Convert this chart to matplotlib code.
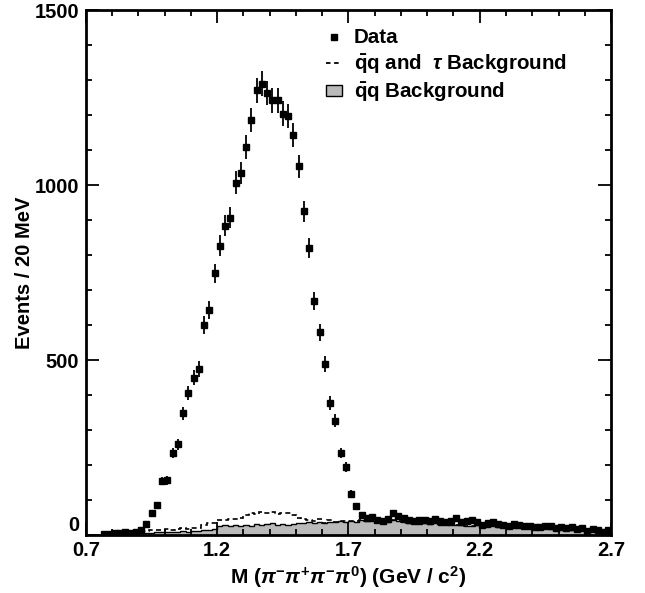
import numpy as np
import matplotlib
matplotlib.use("Agg")
import matplotlib.pyplot as plt
from matplotlib.lines import Line2D
from matplotlib.patches import Patch
from matplotlib.ticker import MultipleLocator

plt.rcParams['font.family'] = ['Liberation Sans', 'DejaVu Sans']
plt.rcParams['font.weight'] = 'bold'
plt.rcParams['mathtext.fontset'] = 'custom'
plt.rcParams['mathtext.rm'] = 'Liberation Sans:bold'
plt.rcParams['mathtext.bf'] = 'Liberation Sans:bold'
plt.rcParams['mathtext.it'] = 'Liberation Sans:italic'

# 20 MeV bins from 0.70 to 2.70 GeV
edges = np.round(np.arange(0.70, 2.7001, 0.02), 2)
centers = 0.5 * (edges[:-1] + edges[1:])

# events per bin
data = [0, 0, 0, 3, 4, 6, 5, 8, 7, 10,
        14, 31, 62, 86, 154, 156, 234, 259, 348, 405,
        450, 474, 600, 643, 748, 827, 884, 906, 1007, 1035,
        1109, 1186, 1271, 1290, 1263, 1242, 1242, 1204, 1198, 1142,
        1053, 925, 820, 668, 579, 489, 378, 327, 234, 195,
        117, 83, 57, 50, 52, 44, 41, 47, 62, 55,
        50, 42, 40, 44, 42, 40, 46, 41, 36, 39,
        48, 37, 40, 44, 36, 30, 33, 36, 32, 30,
        27, 31, 28, 25, 27, 24, 22, 26, 25, 20,
        22, 19, 23, 16, 20, 12, 18, 14, 10, 15]

# continuum qq background
qq_bkg = [0, 0, 0, 1, 2, 2, 3, 3, 4, 4,
          5, 6, 7, 8, 9, 9, 10, 10, 11, 10,
          12, 11, 13, 14, 16, 26, 28, 25, 29, 27,
          30, 27, 32, 29, 31, 33, 30, 32, 28, 31,
          34, 33, 36, 35, 37, 34, 38, 36, 39, 37,
          40, 38, 42, 39, 41, 43, 40, 38, 42, 39,
          36, 34, 35, 32, 33, 31, 34, 30, 32, 29,
          28, 30, 27, 26, 29, 25, 24, 26, 23, 22,
          22, 21, 23, 20, 19, 21, 18, 20, 17, 19,
          16, 17, 15, 14, 16, 13, 14, 12, 13, 11]

# other tau decays on top of qq
tau_bkg = [0, 0, 0, 0, 0, 1, 1, 2, 2, 4,
           5, 6, 7, 7, 5, 7, 5, 7, 8, 8,
           9, 10, 17, 19, 19, 18, 14, 21, 16, 21,
           28, 35, 28, 36, 32, 33, 31, 32, 34, 27,
           16, 14, 8, 5, 8, 1, 5, 1, 1, 2,
           1, 1, 1, 0, 0, 0, 0, 0, 0, 0,
           0, 0, 0, 0, 0, 0, 0, 0, 0, 0,
           0, 0, 0, 0, 0, 0, 0, 0, 0, 0,
           0, 0, 0, 0, 0, 0, 0, 0, 0, 0,
           0, 0, 0, 0, 0, 0, 0, 0, 0, 0]

data = np.array(data, dtype=float)
qq_bkg = np.array(qq_bkg, dtype=float)
tau_bkg = np.array(tau_bkg, dtype=float)
total_bkg = qq_bkg + tau_bkg

fig = plt.figure(figsize=(6.45, 5.93), dpi=100)
ax = fig.add_axes([0.1333, 0.0978, 0.814, 0.8853])

ax.stairs(qq_bkg, edges, fill=True, color='#bababa', zorder=1)
ax.stairs(qq_bkg, edges, color='black', lw=1.0, zorder=2)
ax.stairs(total_bkg, edges, color='black', lw=1.2, ls=(0, (3, 2)), zorder=2)

m = data > 0
ax.errorbar(centers[m], data[m], yerr=np.sqrt(data[m]), fmt='s', ms=4.9,
            color='black', ecolor='black', elinewidth=1.3, capsize=0, zorder=3)

ax.set_xlim(0.7, 2.7)
ax.set_ylim(0, 1500)
ax.set_xticks(np.arange(0.7, 2.71, 0.5))
ax.set_xticklabels(['0.7', '1.2', '1.7', '2.2', '2.7'])
ax.xaxis.set_minor_locator(MultipleLocator(0.1))
ax.set_yticks([0, 500, 1000, 1500])
ax.yaxis.set_minor_locator(MultipleLocator(100))

ax.tick_params(which='both', direction='in', top=True, right=True, width=1.3)
ax.tick_params(which='major', length=9.5)
ax.tick_params(which='minor', length=4.5)
ax.tick_params(axis='x', labelsize=14.5, pad=4)
ax.tick_params(axis='y', labelsize=14.5, pad=5)
for lab in ax.get_xticklabels() + ax.get_yticklabels():
    lab.set_fontweight('bold')
# the zero label sits just above the corner
ax.yaxis.get_major_ticks()[0].label1.set_verticalalignment('bottom')
for s in ax.spines.values():
    s.set_linewidth(2.0)

ax.set_xlabel(r'M ($\pi^{-}\pi^{+}\pi^{-}\pi^{0}$) (GeV / c$^{2}$)',
              fontsize=15, fontweight='bold', labelpad=3)
ax.set_ylabel('Events / 20 MeV', fontsize=14.5, fontweight='bold', labelpad=0)

handles = [
    Line2D([], [], marker='s', ms=4.9, color='black', ls='none'),
    Line2D([], [], color='black', lw=1.3, ls=(0, (2.5, 2))),
    Patch(facecolor='#bababa', edgecolor='black', lw=1.0),
]
labels = ['Data', r'$\bar{\mathrm{q}}$q and  $\tau$ Background',
          r'$\bar{\mathrm{q}}$q Background']
ax.legend(handles, labels, loc='upper left', bbox_to_anchor=(0.458, 0.965),
          frameon=False, borderpad=0, borderaxespad=0, handlelength=0.78,
          handleheight=0.45, handletextpad=0.55, labelspacing=0.24,
          prop={'size': 14.8, 'weight': 'bold'})

fig.savefig('out.png', dpi=100, facecolor='white')
